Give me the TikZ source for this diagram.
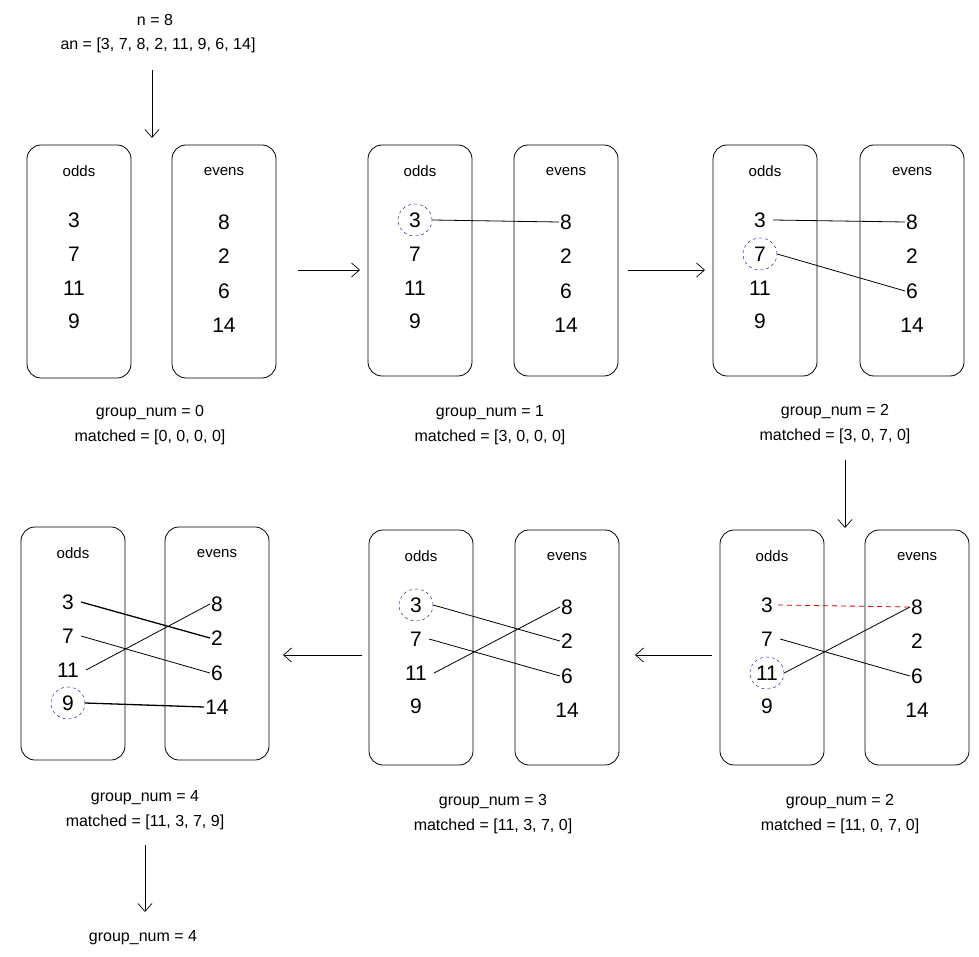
\documentclass[tikz,border=0pt]{standalone}
\usepackage{fontspec}
\setmainfont{Liberation Sans}
\usetikzlibrary{arrows.meta,shapes.geometric}
\begin{document}
\begin{tikzpicture}[x=1pt,y=-1pt,
  box/.style={draw,rounded corners=14pt,line width=0.8pt},
  num/.style={font=\fontsize{21}{23}\selectfont,inner sep=1pt},
  hd/.style={font=\fontsize{15}{17}\selectfont},
  captxt/.style={font=\fontsize{16}{18}\selectfont,align=center},
  lnk/.style={line width=0.8pt},
  ring/.style={draw=blue!70!black,dashed,ellipse,minimum width=34pt,minimum height=32pt,inner sep=0pt},
  arr/.style={-{Straight Barb[length=8pt,width=14pt]},line width=0.7pt}]
\useasboundingbox (0,0) rectangle (979,957);
% header
\node[captxt] (hn) at (155,20) {n = 8};
\node[captxt] (ha) at (158,45) {an = [3, 7, 8, 2, 11, 9, 6, 14]};
\newcommand{\panel}[9]{%
 \draw[box] (#2-52,#4) rectangle (#2+52,#5);
 \draw[box] (#3-52,#4) rectangle (#3+52,#5);
 \node[hd] (#1oh) at (#2,#4+26) {odds};
 \node[hd] (#1eh) at (#3,#4+27) {evens};
 \node[num] (#1o1) at (#2-5,#4+75) {3};
 \node[num] (#1o2) at (#2-5,#4+109) {7};
 \node[num] (#1o3) at (#2-5,#4+143) {11};
 \node[num] (#1o4) at (#2-5,#4+176) {9};
 \node[num] (#1e1) at (#3,#4+77) {8};
 \node[num] (#1e2) at (#3,#4+111) {2};
 \node[num] (#1e3) at (#3,#4+146) {6};
 \node[num] (#1e4) at (#3,#4+180) {14};
 \node[captxt] (#1g) at (#6,#7) {group\_num = #8};
 \node[captxt] (#1m) at (#6,#7+24) {matched = [#9]};
}
\panel{a}{79}{224}{145}{378}{150}{413}{0}{0, 0, 0, 0}
\panel{b}{420}{566}{145}{376}{490}{413}{1}{3, 0, 0, 0}
\panel{c}{765}{912}{145}{376}{835}{412}{2}{3, 0, 7, 0}
\panel{d}{772}{917}{530}{765}{840}{802}{2}{11, 0, 7, 0}
\panel{e}{421}{567}{530}{765}{493}{802}{3}{11, 3, 7, 0}
\panel{f}{73}{217}{527}{760}{145}{798}{4}{11, 3, 7, 9}
\node[captxt] (fin) at (143,938) {group\_num = 4};
% arrows
\draw[arr] (152,70) -- (152,138);
\draw[arr] (298,270) -- (360,270);
\draw[arr] (628,270) -- (705,270);
\draw[arr] (845,460) -- (845,528);
\draw[arr] (712,655) -- (635,655);
\draw[arr] (362,655) -- (283,655);
\draw[arr] (145,845) -- (145,912);
% panel b
\node[ring] (rb) at (bo1) {};
\draw[lnk] (rb.east) -- (be1.west);
% panel c
\node[ring] (rc) at (co2) {};
\draw[lnk] (co1.east) ++(6,0) -- (ce1.west);
\draw[lnk] (rc.east) -- (ce3.west);
% panel d
\node[ring] (rd) at (do3) {};
\draw[red!80!black,dash pattern=on 5pt off 4pt,line width=0.8pt] (do1.east) ++(4,0) -- (de1.west);
\draw[lnk] (do2.east) ++(6,0) -- (de3.west);
\draw[lnk] (rd.east) -- (de1.west);
% panel e
\node[ring] (re) at (eo1) {};
\draw[lnk] (re.east) -- (ee2.west);
\draw[lnk] (eo2.east) ++(6,0) -- (ee3.west);
\draw[lnk] (eo3.east) ++(6,0) -- (ee1.west);
% panel f
\node[ring] (rf) at (fo4) {};
\draw[lnk,line width=1.3pt] (fo1.east) ++(6,0) -- (fe2.west);
\draw[lnk] (fo2.east) ++(6,0) -- (fe3.west);
\draw[lnk] (fo3.east) ++(6,0) -- (fe1.west);
\draw[lnk,line width=1.3pt] (rf.east) -- (fe4.west);
\end{tikzpicture}
\end{document}
